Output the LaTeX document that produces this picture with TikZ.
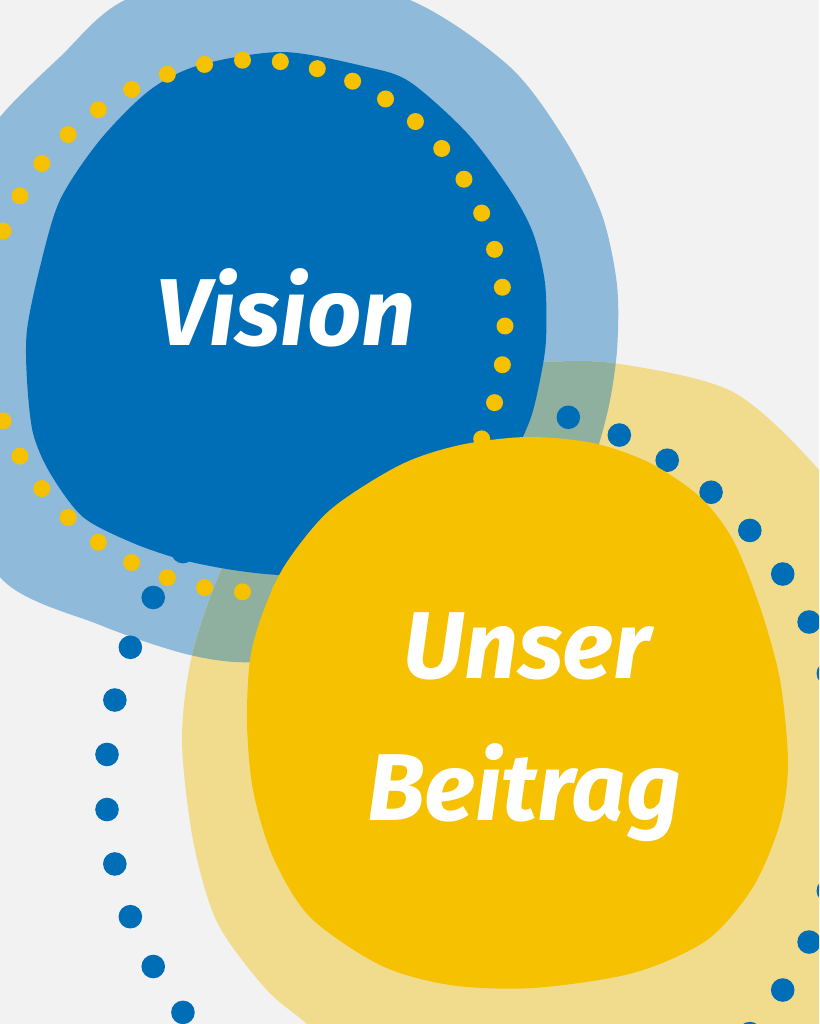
\documentclass[tikz,border=0pt]{standalone}
\usepackage{fontspec}
\setmainfont{Fira Sans}
\usepackage{xcolor}
\usepackage{tikz}
\definecolor{paper}{HTML}{F2F2F2}
\definecolor{visionHalo}{HTML}{8FBAD9}
\definecolor{visionBlue}{HTML}{006EB6}
\definecolor{beitragHalo}{HTML}{F1DC8D}
\definecolor{beitragYellow}{HTML}{F5C100}
\definecolor{haloOverlap}{HTML}{8FAF9F}

\begin{document}
\begin{tikzpicture}[x=1pt,y=-1pt,
    blobtext/.style={anchor=base,text=white,inner sep=0pt,
        font=\fontsize{95}{100}\selectfont\bfseries\itshape}]
    \useasboundingbox (0,0) rectangle (819,1024);
    \clip (0,0) rectangle (819,1024);
    % draw background
    \fill[paper] (0,0) rectangle (819,1024);

    % draw outer halos
    \fill[visionHalo] plot[smooth cycle] coordinates {(260,-40) (410,0) (510,67) (567,143) (602,215) (617,285) (617,350) (608,410) (590,470) (555,545) (490,605) (390,645) (260,662) (190,655) (100,625) (0,577) (-45,450) (-55,300) (-30,170) (0,117) (60,57) (125,0)};
    \fill[beitragHalo] plot[smooth cycle] coordinates {(545,362) (620,364) (733,392) (819,470) (880,560) (915,740) (890,930) (820,1080) (600,1140) (370,1080) (307,1024) (265,988) (217,922) (193,840) (182,740) (192,655) (222,568) (270,480) (350,410) (445,372)};
    \begin{scope}
        \clip plot[smooth cycle] coordinates {(260,-40) (410,0) (510,67) (567,143) (602,215) (617,285) (617,350) (608,410) (590,470) (555,545) (490,605) (390,645) (260,662) (190,655) (100,625) (0,577) (-45,450) (-55,300) (-30,170) (0,117) (60,57) (125,0)};
        \fill[haloOverlap] plot[smooth cycle] coordinates {(545,362) (620,364) (733,392) (819,470) (880,560) (915,740) (890,930) (820,1080) (600,1140) (370,1080) (307,1024) (265,988) (217,922) (193,840) (182,740) (192,655) (222,568) (270,480) (350,410) (445,372)};
    \end{scope}

    % draw blue dots round Beitrag
    \foreach \k [evaluate=\k as \a using 184.19+8.372*\k] in {0,...,42}
    \fill[visionBlue] ({475+369*cos(\a)},{782+377*sin(\a)}) circle (11.8);

    % draw Vision blob
    \fill[visionBlue] plot[smooth cycle] coordinates {(283,52) (367,67) (410,82) (467,133) (510,190) (533,233) (545,283) (546,340) (540,380) (530,420) (510,460) (470,505) (400,548) (330,570) (283,575) (233,570) (183,560) (133,543) (83,517) (50,473) (33,433) (27,380) (27,330) (40,267) (60,200) (100,140) (150,90) (200,65)};

    % draw yellow dots round Vision
    \foreach \k [evaluate=\k as \a using 8.372*\k] in {0,...,42}
    \fill[beitragYellow] ({252+(260-7*cos(\a))*cos(\a)},{326+266*sin(\a)}) circle (8.5);

    % draw Beitrag blob
    \fill[beitragYellow] plot[smooth cycle] coordinates {(527,437) (593,443) (650,463) (700,497) (733,540) (760,607) (780,680) (788,763) (780,823) (753,887) (707,940) (633,973) (533,988) (450,985) (380,965) (310,917) (273,857) (253,790) (247,723) (250,660) (262,615) (285,565) (330,510) (400,465) (460,445)};

    % draw labels
    \node[blobtext] (vision) at (286,345) {Vision};
    \node[blobtext] (unser) at (527,678) {Unser};
    \node[blobtext] (beitrag) at (524,820) {Beitrag};
\end{tikzpicture}
\end{document}
